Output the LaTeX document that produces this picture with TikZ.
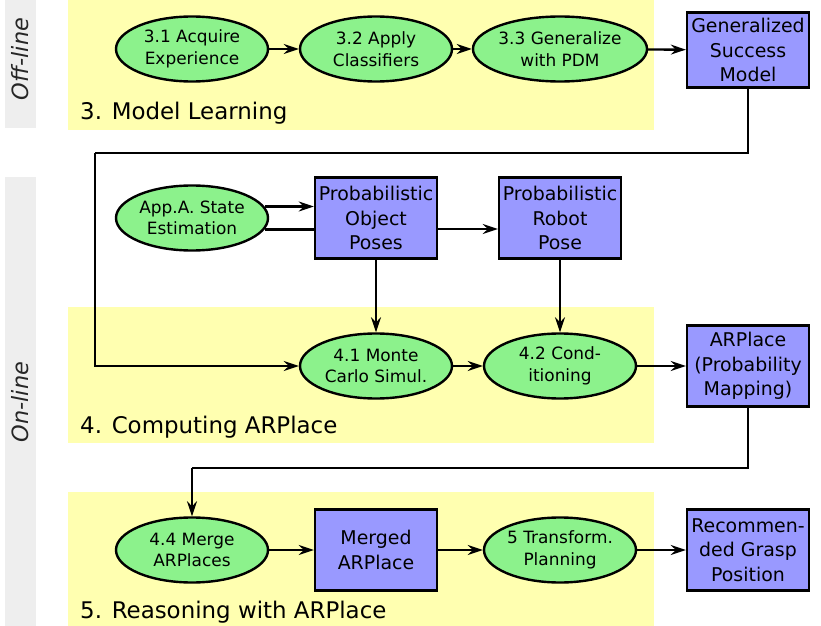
\documentclass[tikz,border=0pt]{standalone}
\usepackage{fontspec}
\setmainfont{DejaVu Sans}
\usetikzlibrary{shapes.geometric,arrows.meta}
\definecolor{stepgreen}{RGB}{140,242,140}
\definecolor{datablue}{RGB}{153,153,255}
\definecolor{panelyellow}{RGB}{255,255,176}
\definecolor{stripgray}{RGB}{238,238,238}
\begin{document}
\begin{tikzpicture}[x=1bp,y=-1bp,
  stepnode/.style={ellipse,draw,line width=2.4bp,fill=stepgreen,minimum width=152bp,minimum height=65bp,inner sep=0pt,align=center,font=\fontsize{17}{21.7}\selectfont},
  datanode/.style={rectangle,draw,line width=2.4bp,fill=datablue,minimum width=122bp,minimum height=81bp,inner sep=0pt,align=center,font=\fontsize{19}{24.5}\selectfont},
  conn/.style={line width=2.4bp},
  arr/.style={conn,-{Stealth[length=15bp,width=10bp,inset=5bp]}},
  paneltitle/.style={anchor=base west,inner sep=0pt,font=\fontsize{23}{27}\selectfont},
  sidetitle/.style={rotate=90,inner sep=0pt,font=\fontsize{22.5}{27}\selectfont\itshape,text=black!85}]
\useasboundingbox (0,0) rectangle (821,626);
\fill[stripgray] (5,0) rectangle (36,128);
\fill[stripgray] (5,177) rectangle (36,626);
\fill[panelyellow] (68,0) rectangle (654,130);
\fill[panelyellow] (68,307) rectangle (654,443);
\fill[panelyellow] (68,492) rectangle (654,626);
\node[sidetitle] (offline) at (20,59) {Off-line};
\node[sidetitle] (online) at (20,402) {On-line};
\node[paneltitle] (learn) at (80,120) {3. Model Learning};
\node[paneltitle] (compute) at (80,433) {4. Computing ARPlace};
\node[paneltitle] (reason) at (80,618) {5. Reasoning with ARPlace};

\node[stepnode] (acquire) at (192,49) {3.1 Acquire\\Experience};
\node[stepnode] (classify) at (376,49) {3.2 Apply\\Classifiers};
\node[stepnode] (generalize) at (560,49) {3.3 Generalize\\with PDM};
\node[datanode,minimum height=75bp] (success) at (748,50) {Generalized\\Success\\Model};

\node[stepnode] (stateest) at (192,218) {App.A. State\\Estimation};
\node[datanode] (objposes) at (376,218) {Probabilistic\\Object\\Poses};
\node[datanode] (robpose) at (560,218) {Probabilistic\\Robot\\Pose};
\node[stepnode] (montecarlo) at (376,366) {4.1 Monte\\Carlo Simul.};
\node[stepnode] (condition) at (560,366) {4.2 Cond-\\itioning};
\node[datanode] (arplace) at (748,366) {ARPlace\\(Probability\\Mapping)};

\node[stepnode] (merge) at (192,550) {4.4 Merge\\ARPlaces};
\node[datanode] (merged) at (376,550) {Merged\\ARPlace};
\node[stepnode] (transform) at (560,550) {5 Transform.\\Planning};
\node[datanode] (grasp) at (748,550) {Recommen-\\ded Grasp\\Position};

\coordinate (succdown) at (748,153);
\coordinate (succleft) at (95,153);
\coordinate (arpdown) at (748,468);
\coordinate (arpleft) at (192,468);

\draw[arr] (acquire) -- (classify);
\draw[arr] (classify) -- (generalize);
\draw[arr] (generalize) -- (success);
\draw[conn] (success) -- (succdown) -- (succleft);
\draw[arr] (succleft) |- (montecarlo);
\draw[arr] (stateest.9) -- (stateest.9 -| objposes.west);
\draw[conn] (stateest.-9) -- (stateest.-9 -| objposes.west);
\draw[arr] ([yshift=-11bp]objposes.east) -- ([yshift=-11bp]objposes.east -| robpose.west);
\draw[arr] (objposes) -- (montecarlo);
\draw[arr] (robpose) -- (condition);
\draw[arr] (montecarlo) -- (condition);
\draw[arr] (condition) -- (arplace);
\draw[conn] (arplace) -- (arpdown) -- (arpleft);
\draw[arr] (arpleft) -- (merge);
\draw[arr] (merge) -- (merged);
\draw[arr] (merged) -- (transform);
\draw[arr] (transform) -- (grasp);
\end{tikzpicture}
\end{document}
